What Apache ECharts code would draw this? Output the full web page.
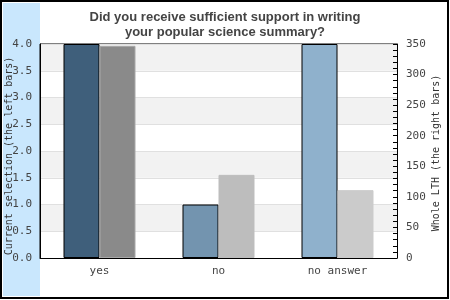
<!DOCTYPE html>
<html><head><meta charset="utf-8">
<script src="https://cdn.jsdelivr.net/npm/echarts@6/dist/echarts.min.js"></script>
<style>html,body{margin:0;padding:0;background:#fff}#c{width:450px;height:300px}</style>
</head><body><div id="c"></div>
<script>
const categories = ['yes', 'no', 'no answer'];
const currentSelection = [4.0, 1.0, 4.0];
const wholeLTH = [347, 136, 111];
const leftTicks = [0, 0.5, 1.0, 1.5, 2.0, 2.5, 3.0, 3.5, 4.0];
const rightTicks = [0, 50, 100, 150, 200, 250, 300, 350];

const leftColors = ['#3f5f7b', '#7394af', '#8fb1cc'];
const rightColors = ['#8a8a8a', '#bdbdbd', '#cbcbcb'];
const rightBorders = ['#a8a8a8', '#bdbdbd', '#cbcbcb'];

const mono = '"DejaVu Sans Mono", monospace';
const chart = echarts.init(document.getElementById('c'));
chart.setOption({
  animation: false,
  graphic: [
    { type: 'rect', z: -10, shape: { x: 3, y: 3, width: 37, height: 293 }, style: { fill: '#c9e7fd' } },
    { type: 'rect', z: 100, shape: { x: 1, y: 1, width: 447, height: 297 }, style: { fill: null, stroke: '#000', lineWidth: 2 } },
    { type: 'text', x: 9, y: 156, rotation: Math.PI / 2, style: { text: 'Current selection (the left bars)', font: '10px "DejaVu Sans Mono"', fill: '#333', align: 'center', verticalAlign: 'middle' } },
    { type: 'text', x: 436, y: 153, rotation: Math.PI / 2, style: { text: 'Whole LTH (the right bars)', font: '10px "DejaVu Sans Mono"', fill: '#333', align: 'center', verticalAlign: 'middle' } }
  ],
  title: {
    text: 'Did you receive sufficient support in writing\nyour popular science summary?',
    left: 'center', top: 5,
    textStyle: { fontFamily: '"Liberation Sans", Arial, sans-serif', fontWeight: 'bold', fontSize: 13, color: '#444', lineHeight: 15 }
  },
  grid: { left: 40, right: 53, top: 44, bottom: 42, show: true, borderColor: '#000', borderWidth: 1, backgroundColor: 'transparent' },
  xAxis: {
    type: 'category', data: categories,
    axisLine: { lineStyle: { color: '#000' } },
    axisTick: { show: false },
    axisLabel: { fontFamily: mono, fontSize: 11, color: '#444', margin: 8 }
  },
  yAxis: [
    {
      type: 'value', min: 0, max: 4, interval: 0.5,
      axisLine: { show: true, lineStyle: { color: '#000' } },
      axisTick: { show: false },
      axisLabel: { fontFamily: mono, fontSize: 11, color: '#444', margin: 8, formatter: v => v.toFixed(1) },
      splitLine: { show: true, lineStyle: { color: '#e0e0e0' } },
      splitArea: { show: true, areaStyle: { color: ['#ffffff', '#f2f2f2'] } }
    },
    {
      type: 'value', min: 0, max: 350, interval: 50, position: 'right',
      axisLine: { show: true, lineStyle: { color: '#000' } },
      axisTick: { show: true, inside: true, length: 4, lineStyle: { color: '#000' } },
      minorTick: { show: true, splitNumber: 5, length: 4, lineStyle: { color: '#000' } },
      axisLabel: { fontFamily: mono, fontSize: 11, color: '#444', margin: 9 },
      splitLine: { show: false }
    }
  ],
  series: [
    {
      type: 'bar', yAxisIndex: 0, barWidth: 36, barGap: 0,
      data: currentSelection.map((v, i) => ({ value: v, itemStyle: { color: leftColors[i], borderColor: '#000', borderWidth: 1 } }))
    },
    {
      type: 'bar', yAxisIndex: 1, barWidth: 36, barGap: 0,
      data: wholeLTH.map((v, i) => ({ value: v, itemStyle: { color: rightColors[i], borderColor: rightBorders[i], borderWidth: 1 } }))
    }
  ]
});
</script></body></html>
